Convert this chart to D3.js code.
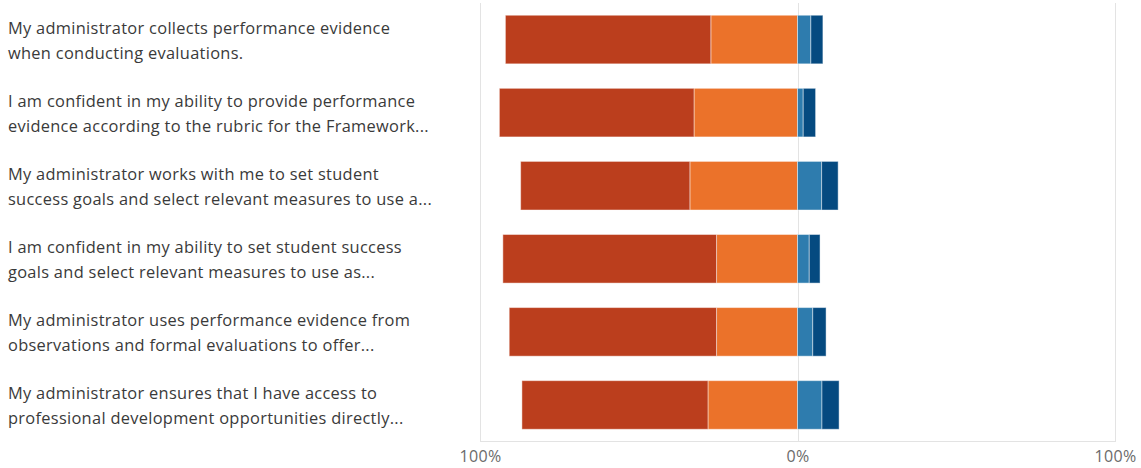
<!DOCTYPE html>
<html>
<head>
<meta charset="utf-8">
<script src="https://cdn.jsdelivr.net/npm/d3@7"></script>
<style>
  html, body { margin: 0; padding: 0; background: #fff; }
  svg { display: block; }
</style>
</head>
<body>
<svg id="chart" width="1141" height="468"></svg>
<script>
// Survey statements, each split over two lines as displayed
const categories = [
  ["My administrator collects performance evidence", "when conducting evaluations."],
  ["I am confident in my ability to provide performance", "evidence according to the rubric for the Framework..."],
  ["My administrator works with me to set student", "success goals and select relevant measures to use a..."],
  ["I am confident in my ability to set student success", "goals and select relevant measures to use as..."],
  ["My administrator uses performance evidence from", "observations and formal evaluations to offer..."],
  ["My administrator ensures that I have access to", "professional development opportunities directly..."]
];

// Percent of responses per category (negative side drawn left of 0%)
const stronglyDisagree = [64.7, 61.3, 53.3, 67.3, 65.3, 58.6];
const disagree         = [27.3, 32.6, 33.9, 25.5, 25.5, 28.2];
const agree            = [4.2, 1.8, 7.6, 3.7, 4.8, 7.7];
const stronglyAgree    = [3.8, 3.9, 5.2, 3.4, 4.2, 5.4];

const tickValues = [-100, 0, 100];
const tickLabels = ["100%", "0%", "100%"];

const seriesColors = {
  stronglyDisagree: "#bb3e1d",
  disagree: "#eb722a",
  agree: "#2e7cae",
  stronglyAgree: "#054a80"
};

const svg = d3.select("#chart");
const plot = { left: 480, right: 1115, top: 3, bottom: 441.5 };

const x = d3.scaleLinear().domain([-100, 100]).range([plot.left, plot.right]);
const y = d3.scaleBand()
  .domain(d3.range(categories.length))
  .range([plot.top, plot.bottom])
  .paddingInner(0.335)
  .paddingOuter(0.1675);

// Grid: outer frame verticals, zero line and baseline
const grid = svg.append("g").attr("stroke", "#e3e3e3").attr("stroke-width", 1);
tickValues.forEach(v => {
  grid.append("line")
    .attr("x1", Math.round(x(v)) + 0.5).attr("x2", Math.round(x(v)) + 0.5)
    .attr("y1", plot.top).attr("y2", plot.bottom);
});
grid.append("line")
  .attr("x1", plot.left).attr("x2", plot.right + 1)
  .attr("y1", plot.bottom).attr("y2", plot.bottom);

// Build stacked segments for each row
const rows = categories.map((c, i) => {
  const segs = [];
  let neg = 0;
  [["disagree", disagree[i]], ["stronglyDisagree", stronglyDisagree[i]]].forEach(([k, v]) => {
    segs.push({ key: k, x0: -(neg + v), x1: -neg });
    neg += v;
  });
  let pos = 0;
  [["agree", agree[i]], ["stronglyAgree", stronglyAgree[i]]].forEach(([k, v]) => {
    segs.push({ key: k, x0: pos, x1: pos + v });
    pos += v;
  });
  return { i, segs };
});

svg.append("g").selectAll("g")
  .data(rows)
  .join("g")
  .attr("transform", d => `translate(0,${y(d.i)})`)
  .selectAll("rect")
  .data(d => d.segs)
  .join("rect")
  .attr("x", d => x(d.x0))
  .attr("width", d => x(d.x1) - x(d.x0))
  .attr("y", 0)
  .attr("height", y.bandwidth())
  .attr("fill", d => seriesColors[d.key])
  .attr("stroke", "#ffffff")
  .attr("stroke-opacity", 0.45)
  .attr("stroke-width", 1);

// Category labels
const labelFont = "'Open Sans', 'Noto Sans', sans-serif";
const labels = svg.append("g")
  .attr("font-family", labelFont)
  .attr("font-size", 16.4)
  .attr("letter-spacing", 0.3)
  .attr("fill", "#3a3a3a");

categories.forEach((lines, i) => {
  const cy = y(i) + y.bandwidth() / 2;
  const t = labels.append("text").attr("x", 8);
  lines.forEach((ln, j) => {
    t.append("tspan")
      .attr("x", 8)
      .attr("y", cy + (j === 0 ? -12.5 : 13))
      .attr("dominant-baseline", "central")
      .text(ln);
  });
});

// Bottom axis tick labels
const axis = d3.axisBottom(x)
  .tickValues(tickValues)
  .tickFormat((d, i) => tickLabels[i])
  .tickSize(0)
  .tickPadding(9);

const axisG = svg.append("g")
  .attr("transform", `translate(0,${plot.bottom})`)
  .call(axis);
axisG.select(".domain").remove();
axisG.selectAll("text")
  .attr("font-family", labelFont)
  .attr("font-size", 16)
  .attr("letter-spacing", 0.3)
  .attr("fill", "#6b6b6b");
</script>
</body>
</html>
